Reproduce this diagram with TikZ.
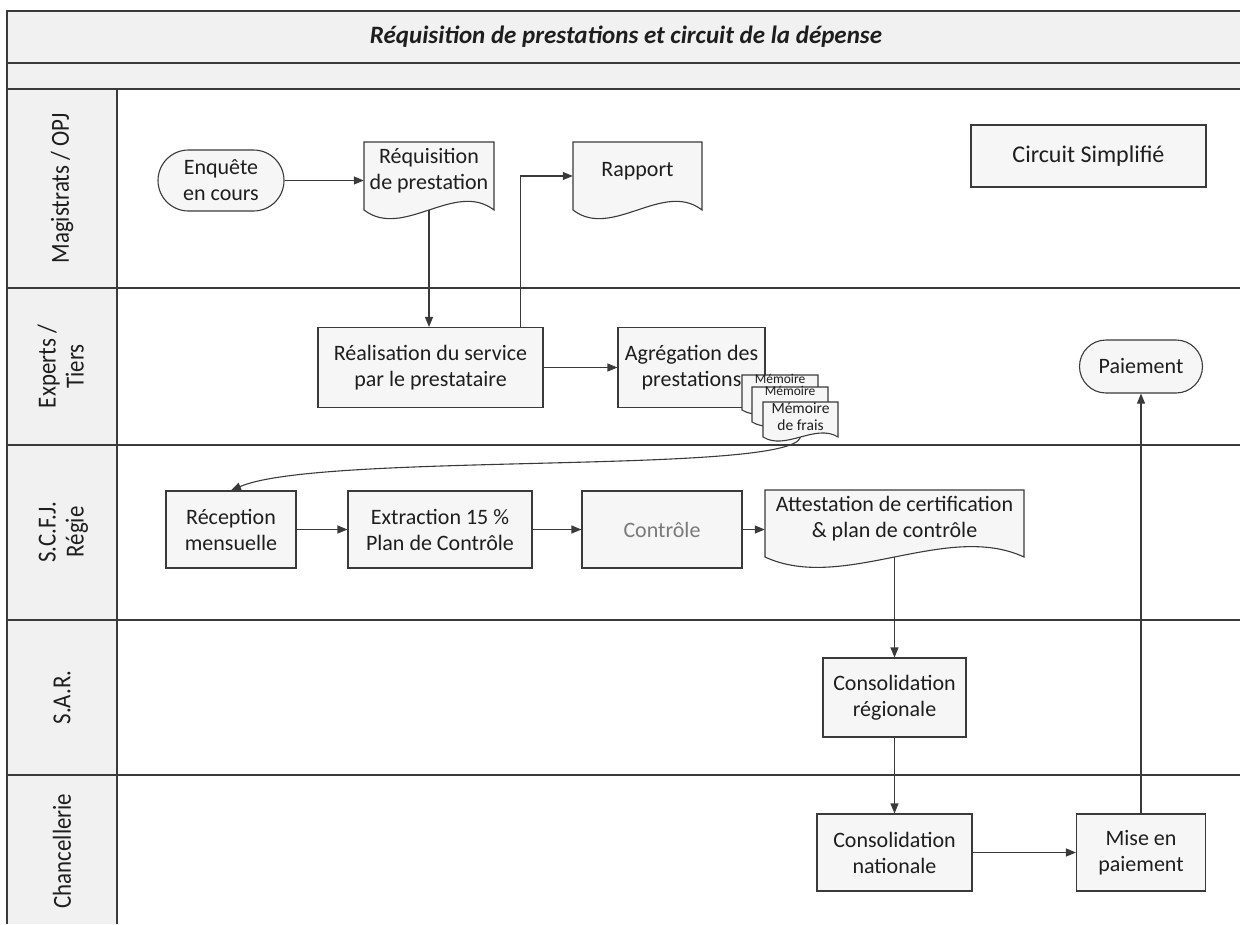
\documentclass[tikz,border=0pt]{standalone}
\usepackage{fontspec}
\setmainfont{Carlito}
\usetikzlibrary{arrows.meta,calc,shapes.misc}
\definecolor{ln}{HTML}{3A3A3A}
\definecolor{bxfill}{HTML}{F6F6F6}
\definecolor{bandfill}{HTML}{F1F1F1}
\definecolor{txt}{HTML}{1E1E1E}
\definecolor{graytxt}{HTML}{7A7A7A}
\newcommand\docnode[8]{%
  \draw[docshape] ({#2-(#4)/2},{#3-(#5)/2}) -- ({#2+(#4)/2},{#3-(#5)/2}) -- ({#2+(#4)/2},{#3+(#5)/2}) .. controls +({-0.3*(#4)},{-(#6)}) and +({0.3*(#4)},{#6}) .. ({#2-(#4)/2},{#3+(#5)/2}) -- cycle;
  \node[doctext,minimum width=#4pt,minimum height=#5pt,#8] (#1) at (#2,#3) {#7};
}
\begin{document}
\begin{tikzpicture}[x=1pt,y=-1pt,
  every node/.style={text=txt},
  box/.style={draw=ln, fill=bxfill, line width=1.1pt, align=center, font=\fontsize{22}{26}\selectfont, inner sep=2pt},
  term/.style={box, rounded rectangle},
  docshape/.style={draw=ln, fill=bxfill, line width=1.1pt},
  doctext/.style={align=center, font=\fontsize{22}{26}\selectfont, inner sep=0pt, text depth=14pt},
  memo/.style={font=\fontsize{13.5}{17}\selectfont},
  memobig/.style={font=\fontsize{15.5}{17}\selectfont},
  arr/.style={draw=ln, line width=1.1pt, -{Triangle[length=10pt,width=8pt]}},
  frame/.style={draw=ln, line width=1.3pt},
  lane/.style={rotate=90, align=center, font=\fontsize{26}{28}\selectfont},
]
\useasboundingbox (0,0) rectangle (1240,924);
% bands and frame
\fill[bandfill] (7,11) rectangle (1240,89);
\fill[bandfill] (7,89) rectangle (117,924);
\draw[frame] (1240,11) -- (7,11) -- (7,924);
\draw[frame] (7,63) -- (1240,63);
\foreach \yy in {89,288,445,620,775} \draw[frame] (7,\yy) -- (1240,\yy);
\draw[frame] (117,89) -- (117,924);

% title and lane labels
\node[font=\fontsize{25}{29}\selectfont\bfseries\itshape] (title) at (626,37) {Réquisition de prestations et circuit de la dépense};
\node[lane] (l1) at (62,188.5) {\scalebox{0.88}[1]{Magistrats / OPJ}};
\node[lane] (l2) at (64,366.5) {\scalebox{0.88}[1]{\begin{tabular}{@{}c@{}}Experts /\\Tiers\end{tabular}}};
\node[lane] (l3) at (64,532) {\scalebox{0.88}[1]{\begin{tabular}{@{}c@{}}S.C.F.J.\\Régie\end{tabular}}};
\node[lane] (l4) at (62,697.5) {\scalebox{0.88}[1]{S.A.R.}};
\node[lane] (l5) at (62,851) {\scalebox{0.88}[1]{Chancellerie}};

% Magistrats / OPJ
\node[term, minimum width=130pt, minimum height=61pt] (enq) at (221,180.5) {Enquête\\en cours};
\docnode{req}{429}{176}{130}{68}{30}{Réquisition\\de prestation}{}
\docnode{rap}{637.5}{176}{129}{68}{30}{Rapport}{}
\node[box, minimum width=235pt, minimum height=62pt, font=\fontsize{24}{28}\selectfont] (circ) at (1088.5,156) {Circuit Simplifié};

% Experts / Tiers
\node[box, minimum width=225pt, minimum height=80pt] (real) at (430.5,367.5) {Réalisation du service\\par le prestataire};
\node[box, minimum width=147pt, minimum height=80pt] (agr) at (691.5,367.5) {Agrégation des\\prestations};
\docnode{m1}{780}{392.5}{76}{35}{14}{Mémoire}{memo, text depth=28pt}
\docnode{m2}{790}{404.5}{76}{35}{14}{Mémoire}{memo, text depth=28pt}
\docnode{m3}{800.5}{419.5}{75}{35}{14}{Mémoire\\de frais}{memobig, text depth=5pt}
\node[term, minimum width=127pt, minimum height=53pt] (pai) at (1141,366.5) {Paiement};

% S.C.F.J. Regie
\node[box, minimum width=130pt, minimum height=77pt] (rec) at (231,529.5) {Réception\\mensuelle};
\node[box, minimum width=184pt, minimum height=77pt] (ext) at (440,529.5) {Extraction 15 \%\\Plan de Contrôle};
\node[box, minimum width=160pt, minimum height=77pt, text=graytxt] (ctl) at (662,529.5) {Contrôle};
\docnode{att}{894.5}{523.5}{259}{67}{36}{Attestation de certification\\\& plan de contrôle}{}

% S.A.R. and Chancellerie
\node[box, minimum width=143pt, minimum height=79pt] (creg) at (894.5,697.5) {Consolidation\\régionale};
\node[box, minimum width=155pt, minimum height=77pt] (cnat) at (894.5,852.5) {Consolidation\\nationale};
\node[box, minimum width=129pt, minimum height=77pt] (mise) at (1141,852.5) {Mise en\\paiement};

% connectors
\draw[arr] (enq.east) -- (enq.east -| req.west);
\draw[arr] (req.south) -- (req.south |- real.north);
\draw[arr] ($(real.north east)+(-23,0)$) |- (rap.west);
\draw[arr] (real.east) -- (agr.west);
\draw[arr] (m3.south) .. controls (790,475) and (320,452) .. (rec.north);
\draw[arr] (rec.east) -- (ext.west);
\draw[arr] (ext.east) -- (ctl.west);
\draw[arr] (ctl.east) -- (ctl.east -| att.west);
\draw[arr] (att.south) -- (creg.north);
\draw[arr] (creg.south) -- (cnat.north);
\draw[arr] (cnat.east) -- (mise.west);
\draw[arr] (mise.north) -- (pai.south);
\end{tikzpicture}
\end{document}
